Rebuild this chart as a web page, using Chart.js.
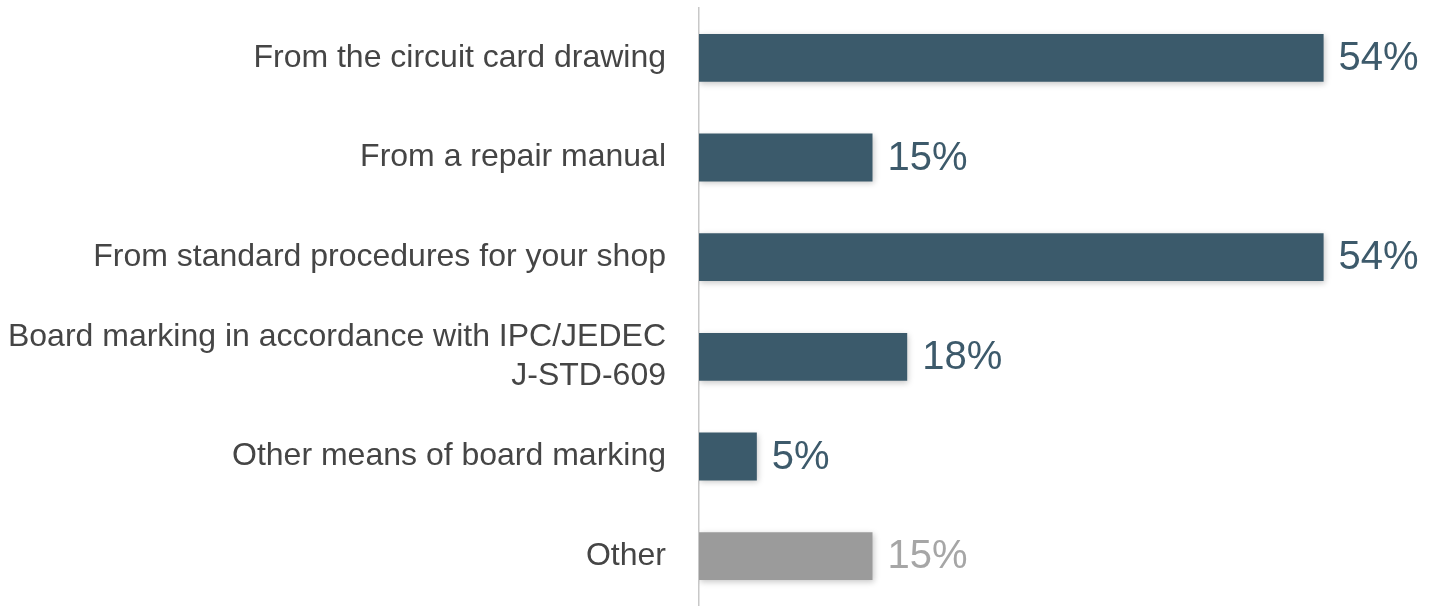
<!DOCTYPE html>
<html>
<head>
<meta charset="utf-8">
<script src="https://cdn.jsdelivr.net/npm/chart.js@4.4.1/dist/chart.umd.min.js"></script>
<style>
  html, body { margin: 0; padding: 0; background: #ffffff; }
  #wrap { width: 1437px; height: 606px; position: relative; }
</style>
</head>
<body>
<div id="wrap"><canvas id="c"></canvas></div>
<script>
const categories = [
  "From the circuit card drawing",
  "From a repair manual",
  "From standard procedures for your shop",
  ["Board marking in accordance with IPC/JEDEC", "J-STD-609"],
  "Other means of board marking",
  "Other"
];
const values = [54, 15, 54, 18, 5, 15];
const valueLabels = ["54%", "15%", "54%", "18%", "5%", "15%"];
const barColors = ["#3b5a6b", "#3b5a6b", "#3b5a6b", "#3b5a6b", "#3b5a6b", "#9b9b9b"];
const labelColors = ["#3d5a6b", "#3d5a6b", "#3d5a6b", "#3d5a6b", "#3d5a6b", "#a6a6a6"];

const shadowPlugin = {
  id: 'barShadow',
  beforeDatasetDraw(chart) {
    const ctx = chart.ctx;
    ctx.save();
    ctx.shadowColor = 'rgba(0,0,0,0.22)';
    ctx.shadowBlur = 6;
    ctx.shadowOffsetX = 1;
    ctx.shadowOffsetY = 2;
  },
  afterDatasetDraw(chart) {
    chart.ctx.restore();
  }
};

const valuePlugin = {
  id: 'valueLabels',
  afterDatasetsDraw(chart) {
    const ctx = chart.ctx;
    const meta = chart.getDatasetMeta(0);
    ctx.save();
    ctx.font = '40px "Liberation Sans", Arial, sans-serif';
    ctx.textAlign = 'left';
    ctx.textBaseline = 'middle';
    meta.data.forEach((bar, i) => {
      ctx.fillStyle = labelColors[i];
      ctx.fillText(valueLabels[i], bar.x + 15, bar.y + 1);
    });
    ctx.restore();
  }
};

new Chart(document.getElementById('c'), {
  type: 'bar',
  data: {
    labels: categories,
    datasets: [{
      data: values,
      backgroundColor: barColors,
      borderWidth: 0,
      barPercentage: 0.48,
      categoryPercentage: 1.0
    }]
  },
  options: {
    indexAxis: 'y',
    responsive: true,
    maintainAspectRatio: false,
    animation: false,
    layout: { padding: { top: 8, right: 44, bottom: 0, left: 0 } },
    plugins: {
      legend: { display: false },
      tooltip: { enabled: false }
    },
    scales: {
      x: {
        display: false,
        min: 0,
        max: 60
      },
      y: {
        grid: { display: false },
        border: { display: true, color: '#c8c8c8', width: 1.5 },
        ticks: {
          color: '#454545',
          padding: 25,
          font: { family: '"Liberation Sans", Arial, sans-serif', size: 32, lineHeight: 1.2 }
        },
        afterFit(scale) {
          scale.width = 699;
          scale.paddingTop = 0;
          scale.paddingBottom = 0;
        }
      }
    }
  },
  plugins: [shadowPlugin, valuePlugin]
});
</script>
</body>
</html>
